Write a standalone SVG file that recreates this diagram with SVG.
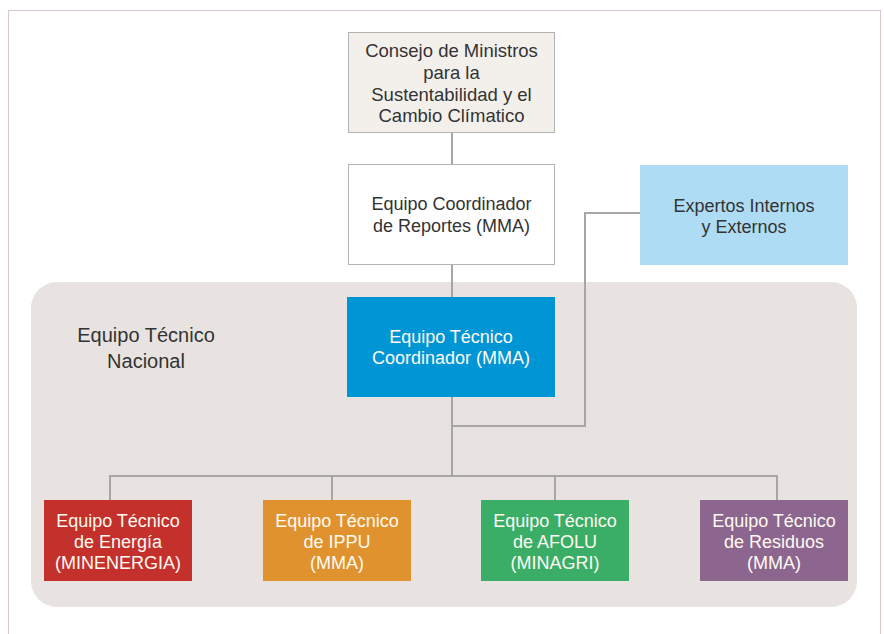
<svg xmlns="http://www.w3.org/2000/svg" width="884" height="634" viewBox="0 0 884 634">
<style>
text{font-family:"Liberation Sans",Arial,sans-serif;font-size:18px;text-anchor:middle}
.dark{fill:#333333}
.light{fill:#fffaf2}
.conn{fill:none;stroke:#a6a6a6;stroke-width:2}
</style>
<rect x="0" y="0" width="884" height="634" fill="#ffffff"/>
<rect x="8.5" y="10.5" width="872" height="640" fill="none" stroke="#d8c8c4" stroke-width="1"/>
<g id="panel">
<rect x="31" y="282" width="826" height="325" rx="26" fill="#e8e3e0"/>
<text class="dark" style="font-size:20px"><tspan x="146" y="342">Equipo Técnico</tspan><tspan x="146" y="368">Nacional</tspan></text>
</g>
<g id="connectors">
<path class="conn" d="M452 132V164M452 264V297M452 397V476M640 213H585V426H452"/>
<path class="conn" d="M110 500V476H777V500M332 476V500M555 476V500"/>
</g>
<g id="consejo">
<rect x="348.5" y="32.5" width="206" height="100" fill="#f3f0ec" stroke="#b3b3b3" stroke-width="1"/>
<text class="dark" style="font-size:18.5px"><tspan x="451.5" y="57">Consejo de Ministros</tspan><tspan x="451.5" y="79">para la</tspan><tspan x="451.5" y="101">Sustentabilidad y el</tspan><tspan x="451.5" y="122">Cambio Clímatico</tspan></text>
</g>
<g id="coordinador-reportes">
<rect x="348.5" y="164.5" width="206" height="100" fill="#ffffff" stroke="#b3b3b3" stroke-width="1"/>
<text class="dark"><tspan x="451.5" y="210">Equipo Coordinador</tspan><tspan x="451.5" y="232">de Reportes (MMA)</tspan></text>
</g>
<g id="expertos">
<rect x="640" y="165" width="208" height="100" fill="#afdcf5"/>
<text class="dark"><tspan x="744" y="212">Expertos Internos</tspan><tspan x="744" y="233">y Externos</tspan></text>
</g>
<g id="tecnico-coordinador">
<rect x="347" y="297" width="208" height="100" fill="#0096d6"/>
<text class="light"><tspan x="451" y="343">Equipo Técnico</tspan><tspan x="451" y="364">Coordinador (MMA)</tspan></text>
</g>
<g id="energia">
<rect x="44" y="500" width="148" height="81" fill="#c4302b"/>
<text class="light"><tspan x="118" y="527">Equipo Técnico</tspan><tspan x="118" y="548">de Energía</tspan><tspan x="118" y="569">(MINENERGIA)</tspan></text>
</g>
<g id="ippu">
<rect x="263" y="500" width="148" height="81" fill="#e0922f"/>
<text class="light"><tspan x="337" y="527">Equipo Técnico</tspan><tspan x="337" y="548">de IPPU</tspan><tspan x="337" y="569">(MMA)</tspan></text>
</g>
<g id="afolu">
<rect x="481" y="500" width="148" height="81" fill="#3aae67"/>
<text class="light"><tspan x="555" y="527">Equipo Técnico</tspan><tspan x="555" y="548">de AFOLU</tspan><tspan x="555" y="569">(MINAGRI)</tspan></text>
</g>
<g id="residuos">
<rect x="700" y="500" width="148" height="81" fill="#8c668e"/>
<text class="light"><tspan x="774" y="527">Equipo Técnico</tspan><tspan x="774" y="548">de Residuos</tspan><tspan x="774" y="569">(MMA)</tspan></text>
</g>
</svg>
